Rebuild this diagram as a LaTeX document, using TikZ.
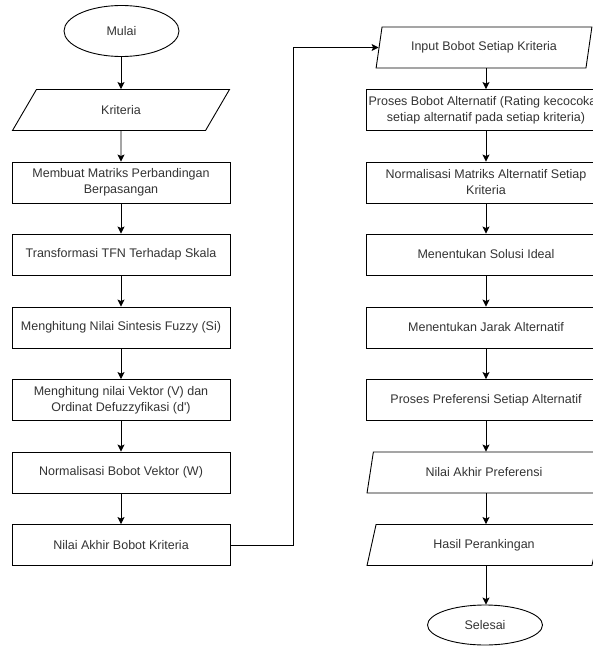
\documentclass[tikz,border=0pt]{standalone}
\usepackage{fontspec}
\setmainfont{Liberation Sans}
\usetikzlibrary{shapes.geometric,arrows.meta}
\begin{document}
\begin{tikzpicture}[x=1pt,y=-1pt,
  every node/.style={font=\fontsize{12.5}{16}\selectfont, text=black!80, inner sep=0pt},
  proc/.style={draw, rectangle, minimum height=41pt, align=center},
  lproc/.style={proc, minimum width=218pt},
  rproc/.style={proc, minimum width=240pt},
  term/.style={draw, ellipse, minimum width=115pt},
  iobox/.style={draw, trapezium, trapezium stretches=true, minimum height=41pt, align=center},
  arr/.style={-{Stealth[length=7pt,width=7pt,inset=1.5pt]}},
  line width=0.9pt]
\useasboundingbox (0,0) rectangle (593,647);

% left column
\node[term, minimum height=51pt] (mulai) at (121.5,31) {Mulai};
\node[iobox, minimum width=218pt, trapezium left angle=58.6, trapezium right angle=121.4] (krit) at (121,110) {Kriteria};
\node[lproc] (m1) at (121,182.5) {Membuat Matriks Perbandingan\\Berpasangan};
\node[lproc] (m2) at (121,254.5) {Transformasi TFN Terhadap Skala};
\node[lproc] (m3) at (121,327.5) {Menghitung Nilai Sintesis Fuzzy (Si)};
\node[lproc] (m4) at (121,400) {Menghitung nilai Vektor (V) dan\\Ordinat Defuzzyfikasi (d\textquotesingle)};
\node[lproc] (m5) at (121,472.5) {Normalisasi Bobot Vektor (W)};
\node[lproc] (m6) at (121,545) {Nilai Akhir Bobot Kriteria};

% right column
\node[iobox, minimum width=216pt, trapezium left angle=70, trapezium right angle=110] (inp) at (484,47.5) {Input Bobot Setiap Kriteria};
\node[rproc] (r1) at (486,110) {Proses Bobot Alternatif (Rating kecocokan\\setiap alternatif pada setiap kriteria)};
\node[rproc] (r2) at (486,182.5) {Normalisasi Matriks Alternatif Setiap\\Kriteria};
\node[rproc] (r3) at (486,254.5) {Menentukan Solusi Ideal};
\node[rproc] (r4) at (486,327.5) {Menentukan Jarak Alternatif};
\node[rproc] (r5) at (486,400) {Proses Preferensi Setiap Alternatif};
\node[iobox, minimum width=234pt, trapezium left angle=70, trapezium right angle=110] (r6) at (484,472.5) {Nilai Akhir Preferensi};
\node[iobox, minimum width=234pt, trapezium left angle=70, trapezium right angle=110] (r7) at (484,545) {Hasil Perankingan};
\node[term, minimum height=40pt] (sel) at (485,625) {Selesai};

% connectors left
\draw[arr] (mulai.south -| krit.north) -- (krit.north);
\draw[arr] (krit) -- (m1);
\draw[arr] (m1) -- (m2);
\draw[arr] (m2) -- (m3);
\draw[arr] (m3) -- (m4);
\draw[arr] (m4) -- (m5);
\draw[arr] (m5) -- (m6);

\coordinate (bend) at (293,545);
\draw[arr] (m6.east) -- (bend) |- (inp.west);

% connectors right
\draw[arr] (inp.south -| r1.north) -- (r1.north);
\draw[arr] (r1) -- (r2);
\draw[arr] (r2) -- (r3);
\draw[arr] (r3) -- (r4);
\draw[arr] (r4) -- (r5);
\draw[arr] (r5.south) -- (r5.south |- r6.north);
\draw[arr] (r6.south -| r5.south) -- (r5.south |- r7.north);
\draw[arr] (r7.south -| r5.south) -- (r5.south |- sel.north);
\end{tikzpicture}
\end{document}
